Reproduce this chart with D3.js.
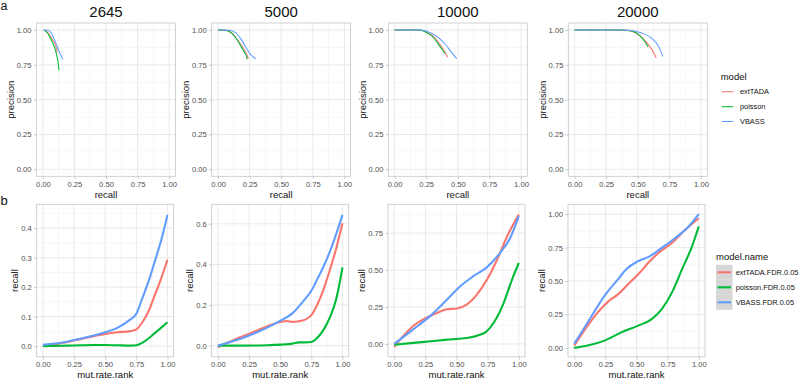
<!DOCTYPE html>
<html><head><meta charset="utf-8">
<script src="https://cdn.jsdelivr.net/npm/d3@7"></script>
<style>body{margin:0;background:#fff} svg{display:block} text{font-family:"Liberation Sans",Arial,Helvetica,sans-serif}</style>
</head><body><svg id="c" width="800" height="379"></svg>
<script>
// ---------- data ----------
const facetTitles = ["2645", "5000", "10000", "20000"];
const prModels = ["extTADA", "poisson", "VBASS"];
const smModels = ["extTADA.FDR.0.05", "poisson.FDR.0.05", "VBASS.FDR.0.05"];
const modelColors = ["#F8766D", "#00BA38", "#619CFF"];

const unitTicks = [0, 0.25, 0.5, 0.75, 1];
const unitTickLabels = ["0.00", "0.25", "0.50", "0.75", "1.00"];

// precision-recall curves: [recall, precision]
const pr2645_extTADA = [[0.008,1.0],[0.03,0.99],[0.06,0.955],[0.08,0.925],[0.1,0.89],[0.115,0.84]];
const pr2645_poisson = [[0.008,1.0],[0.04,0.975],[0.068,0.926],[0.094,0.871],[0.107,0.83],[0.12,0.77],[0.128,0.71]];
const pr2645_VBASS   = [[0.008,1.0],[0.042,0.998],[0.068,0.978],[0.094,0.926],[0.112,0.885],[0.133,0.837],[0.159,0.789]];
const pr5000_extTADA = [[0,1.0],[0.06,0.998],[0.112,0.975],[0.166,0.914],[0.2,0.87],[0.225,0.83],[0.24,0.794]];
const pr5000_poisson = [[0,1.0],[0.06,0.998],[0.113,0.974],[0.153,0.926],[0.192,0.866],[0.219,0.823],[0.232,0.79]];
const pr5000_VBASS   = [[0,1.0],[0.087,0.998],[0.139,0.981],[0.179,0.938],[0.219,0.878],[0.258,0.823],[0.298,0.794]];
const pr10000_extTADA = [[0,1.0],[0.2,1.0],[0.262,0.98],[0.315,0.945],[0.355,0.9],[0.39,0.854],[0.42,0.804]];
const pr10000_poisson = [[0,1.0],[0.2,1.0],[0.256,0.98],[0.308,0.945],[0.347,0.897],[0.373,0.863],[0.399,0.831]];
const pr10000_VBASS   = [[0,1.0],[0.204,1.0],[0.282,0.98],[0.347,0.945],[0.413,0.885],[0.452,0.837],[0.491,0.794]];
const pr20000_extTADA = [[0,1.0],[0.37,1.0],[0.45,0.99],[0.542,0.937],[0.607,0.866],[0.646,0.799]];
const pr20000_poisson = [[0,1.0],[0.372,1.0],[0.45,0.993],[0.515,0.962],[0.554,0.919],[0.581,0.878]];
const pr20000_VBASS   = [[0,1.0],[0.424,0.998],[0.53,0.978],[0.607,0.943],[0.659,0.89],[0.698,0.81]];

// recall by mutation-rate rank (smoothed): [mut.rate.rank, recall]
const rk2645_extTADA = [[0,0.002],[0.1,0.007],[0.2,0.014],[0.3,0.024],[0.4,0.033],[0.5,0.041],[0.6,0.047],[0.7,0.051],[0.75,0.057],[0.8,0.082],[0.85,0.12],[0.9,0.175],[0.95,0.23],[1.0,0.293]];
const rk2645_poisson = [[0,0.0],[0.1,0.001],[0.2,0.002],[0.3,0.003],[0.4,0.004],[0.5,0.004],[0.6,0.003],[0.7,0.002],[0.75,0.003],[0.8,0.012],[0.85,0.027],[0.9,0.045],[0.95,0.063],[1.0,0.081]];
const rk2645_VBASS   = [[0,0.005],[0.1,0.009],[0.2,0.016],[0.3,0.025],[0.4,0.035],[0.5,0.047],[0.6,0.063],[0.7,0.09],[0.75,0.11],[0.8,0.165],[0.85,0.222],[0.9,0.29],[0.95,0.36],[1.0,0.445]];
const rk5000_extTADA = [[0,-0.008],[0.1,0.02],[0.2,0.046],[0.3,0.071],[0.4,0.096],[0.5,0.116],[0.55,0.121],[0.6,0.117],[0.65,0.12],[0.7,0.128],[0.75,0.15],[0.8,0.205],[0.85,0.28],[0.9,0.375],[0.95,0.48],[1.0,0.603]];
const rk5000_poisson = [[0,0.0],[0.2,0.0],[0.4,0.002],[0.5,0.005],[0.6,0.01],[0.65,0.016],[0.7,0.016],[0.75,0.018],[0.8,0.04],[0.85,0.08],[0.9,0.14],[0.95,0.23],[1.0,0.385]];
const rk5000_VBASS   = [[0,0.0],[0.1,0.018],[0.2,0.038],[0.3,0.062],[0.4,0.09],[0.5,0.122],[0.6,0.16],[0.7,0.23],[0.75,0.27],[0.8,0.33],[0.85,0.392],[0.9,0.465],[0.95,0.55],[1.0,0.644]];
const rk10000_extTADA = [[0,-0.02],[0.075,0.056],[0.155,0.123],[0.263,0.18],[0.343,0.21],[0.424,0.235],[0.504,0.24],[0.584,0.268],[0.665,0.336],[0.745,0.436],[0.826,0.57],[0.906,0.727],[1.0,0.875]];
const rk10000_poisson = [[0,-0.005],[0.155,0.007],[0.29,0.018],[0.424,0.029],[0.558,0.038],[0.665,0.056],[0.732,0.078],[0.8,0.145],[0.88,0.28],[0.946,0.436],[1.0,0.548]];
const rk10000_VBASS   = [[0,0.0],[0.155,0.1],[0.29,0.19],[0.424,0.3],[0.53,0.39],[0.638,0.46],[0.745,0.52],[0.853,0.62],[0.933,0.72],[1.0,0.865]];
const rk20000_extTADA = [[0,0.017],[0.108,0.166],[0.189,0.265],[0.27,0.344],[0.351,0.4],[0.432,0.475],[0.514,0.55],[0.595,0.636],[0.676,0.71],[0.784,0.785],[0.892,0.884],[1.0,0.97]];
const rk20000_poisson = [[0,0.0],[0.108,0.017],[0.243,0.054],[0.378,0.116],[0.514,0.166],[0.622,0.215],[0.703,0.29],[0.784,0.413],[0.865,0.587],[0.946,0.76],[1.0,0.908]];
const rk20000_VBASS   = [[0,0.03],[0.108,0.19],[0.243,0.389],[0.351,0.512],[0.419,0.59],[0.514,0.649],[0.608,0.686],[0.703,0.748],[0.811,0.822],[0.919,0.908],[1.0,1.0]];

const rkTicks2645 = [0, 0.1, 0.2, 0.3, 0.4];
const rkTickLabels2645 = ["0.0", "0.1", "0.2", "0.3", "0.4"];
const rkTicks5000 = [0, 0.2, 0.4, 0.6];
const rkTickLabels5000 = ["0.0", "0.2", "0.4", "0.6"];
const rkTicks10000 = [0, 0.25, 0.5, 0.75];
const rkTickLabels10000 = ["0.00", "0.25", "0.50", "0.75"];
const rkTicks20000 = [0, 0.25, 0.5, 0.75, 1];
const rkTickLabels20000 = ["0.00", "0.25", "0.50", "0.75", "1.00"];
const rkDomain2645 = [-0.036, 0.481];
const rkDomain5000 = [-0.055, 0.696];
const rkDomain10000 = [-0.087, 0.945];
const rkDomain20000 = [-0.067, 1.074];

const prSeries = [
  [pr2645_extTADA, pr2645_poisson, pr2645_VBASS],
  [pr5000_extTADA, pr5000_poisson, pr5000_VBASS],
  [pr10000_extTADA, pr10000_poisson, pr10000_VBASS],
  [pr20000_extTADA, pr20000_poisson, pr20000_VBASS]
];
const rkSeries = [
  [rk2645_extTADA, rk2645_poisson, rk2645_VBASS],
  [rk5000_extTADA, rk5000_poisson, rk5000_VBASS],
  [rk10000_extTADA, rk10000_poisson, rk10000_VBASS],
  [rk20000_extTADA, rk20000_poisson, rk20000_VBASS]
];
const rkTicks = [rkTicks2645, rkTicks5000, rkTicks10000, rkTicks20000];
const rkTickLabels = [rkTickLabels2645, rkTickLabels5000, rkTickLabels10000, rkTickLabels20000];
const rkDomains = [rkDomain2645, rkDomain5000, rkDomain10000, rkDomain20000];

// ---------- layout ----------
const svg = d3.select("#c");
const topLefts = [36.5, 211.7, 388.3, 568.3], topW = 139, topY0 = 23, topY1 = 176.3;
const botLefts = [36.7, 211.7, 388, 568], botW = 137, botY0 = 204.3, botY1 = 356.8;
const TICK = "#b3b3b3", TXT = "#4d4d4d", GRIDMAJ = "#e3e3e3", GRIDMIN = "#efefef", BORDER = "#c6c6c6";

function minorOf(ticks, dom) {
  const step = ticks[1] - ticks[0];
  const m = ticks.map(t => t - step / 2).concat([ticks[ticks.length - 1] + step / 2]);
  return m.filter(v => v > dom[0] && v < dom[1]);
}

let clipId = 0;
function drawPanel(o) {
  const g = svg.append("g");
  const x = d3.scaleLinear().domain([-0.05, 1.05]).range([o.left, o.left + o.w]);
  const y = d3.scaleLinear().domain(o.yDom).range([o.y1, o.y0]);
  const xm = minorOf(unitTicks, [-0.05, 1.05]), ym = minorOf(o.yTicks, o.yDom);
  g.selectAll(".gxm").data(xm).join("line").attr("x1", d => x(d)).attr("x2", d => x(d))
    .attr("y1", o.y0).attr("y2", o.y1).attr("stroke", GRIDMIN).attr("stroke-width", 0.5);
  g.selectAll(".gym").data(ym).join("line").attr("y1", d => y(d)).attr("y2", d => y(d))
    .attr("x1", o.left).attr("x2", o.left + o.w).attr("stroke", GRIDMIN).attr("stroke-width", 0.5);
  g.selectAll(".gx").data(unitTicks).join("line").attr("x1", d => x(d)).attr("x2", d => x(d))
    .attr("y1", o.y0).attr("y2", o.y1).attr("stroke", GRIDMAJ).attr("stroke-width", 0.8);
  g.selectAll(".gy").data(o.yTicks).join("line").attr("y1", d => y(d)).attr("y2", d => y(d))
    .attr("x1", o.left).attr("x2", o.left + o.w).attr("stroke", GRIDMAJ).attr("stroke-width", 0.8);
  const cid = "clip" + (clipId++);
  svg.append("clipPath").attr("id", cid).append("rect")
    .attr("x", o.left).attr("y", o.y0).attr("width", o.w).attr("height", o.y1 - o.y0);
  const line = d3.line().x(d => x(d[0])).y(d => y(d[1])).curve(d3.curveMonotoneX);
  const lg = g.append("g").attr("clip-path", `url(#${cid})`);
  o.series.forEach((s, i) => {
    lg.append("path").attr("d", line(s)).attr("fill", "none")
      .attr("stroke", modelColors[i]).attr("stroke-width", o.lw)
      .attr("stroke-linejoin", "round").attr("stroke-linecap", "butt");
  });
  g.append("rect").attr("x", o.left).attr("y", o.y0).attr("width", o.w).attr("height", o.y1 - o.y0)
    .attr("fill", "none").attr("stroke", BORDER).attr("stroke-width", 0.8);
  const ax = g.append("g").attr("transform", `translate(0,${o.y1})`)
    .call(d3.axisBottom(x).tickValues(unitTicks).tickFormat((d, i) => unitTickLabels[i]).tickSize(2.75).tickPadding(o.xPad));
  const ay = g.append("g").attr("transform", `translate(${o.left},0)`)
    .call(d3.axisLeft(y).tickValues(o.yTicks).tickFormat((d, i) => o.yLabels[i]).tickSize(2.75).tickPadding(2.2));
  [ax, ay].forEach(a => {
    a.select(".domain").remove();
    a.selectAll(".tick line").attr("stroke", TICK).attr("stroke-width", 0.7);
    a.selectAll(".tick text").attr("fill", TXT).style("font-size", "7.6px")
      .style("font-family", "'Liberation Sans',Arial,sans-serif");
  });
  const bb = ay.node().getBBox();
  const tx = o.left + bb.x - 3;
  const cy = (o.y0 + o.y1) / 2;
  g.append("text").attr("transform", `translate(${tx},${cy}) rotate(-90)`).attr("text-anchor", "middle")
    .style("font-size", "9.5px").attr("fill", "#111").text(o.yTitle);
  g.append("text").attr("x", o.left + o.w / 2).attr("y", o.xTitleY).attr("text-anchor", "middle")
    .style("font-size", "9.5px").attr("fill", "#111").text(o.xTitle);
  if (o.title) {
    g.append("text").attr("x", o.left + o.w / 2).attr("y", 17).attr("text-anchor", "middle")
      .style("font-size", "15px").attr("fill", "#111").text(o.title);
  }
}

for (let p = 0; p < 4; p++) {
  drawPanel({
    left: topLefts[p], w: topW, y0: topY0, y1: topY1, yDom: [-0.05, 1.05], xPad: 2.2,
    yTicks: unitTicks, yLabels: unitTickLabels, series: prSeries[p], lw: 1.05,
    yTitle: "precision", xTitle: "recall", xTitleY: 197.5, title: facetTitles[p]
  });
  drawPanel({
    left: botLefts[p], w: botW, y0: botY0, y1: botY1, yDom: rkDomains[p], xPad: 1.6,
    yTicks: rkTicks[p], yLabels: rkTickLabels[p], series: rkSeries[p], lw: 2.1,
    yTitle: "recall", xTitle: "mut.rate.rank", xTitleY: 378, title: null
  });
}

// panel tags
svg.append("text").attr("x", 0.5).attr("y", 10).style("font-size", "12.5px").attr("fill", "#111").text("a");
svg.append("text").attr("x", 0.5).attr("y", 205).style("font-size", "13px").attr("fill", "#111").text("b");

// legend (top)
const lgTop = svg.append("g");
lgTop.append("text").attr("x", 720.7).attr("y", 79.5).style("font-size", "9.5px").attr("fill", "#111").text("model");
const topRows = [91.7, 106.7, 121.5];
prModels.forEach((m, i) => {
  lgTop.append("line").attr("x1", 721.7).attr("x2", 733.3).attr("y1", topRows[i]).attr("y2", topRows[i])
    .attr("stroke", modelColors[i]).attr("stroke-width", 1.05);
  lgTop.append("text").attr("x", 740).attr("y", topRows[i] + 2.7).style("font-size", "7.4px")
    .attr("fill", "#111").text(m);
});

// legend (bottom)
const lgBot = svg.append("g");
lgBot.append("text").attr("x", 716).attr("y", 260).style("font-size", "9.5px").attr("fill", "#111").text("model.name");
const botRows = [272.3, 287.3, 302.3];
smModels.forEach((m, i) => {
  lgBot.append("rect").attr("x", 716).attr("y", botRows[i] - 7.5).attr("width", 16.5).attr("height", 15)
    .attr("fill", "#d6d6d6");
  lgBot.append("line").attr("x1", 717.5).attr("x2", 731).attr("y1", botRows[i]).attr("y2", botRows[i])
    .attr("stroke", modelColors[i]).attr("stroke-width", 2.1);
  lgBot.append("text").attr("x", 735.7).attr("y", botRows[i] + 2.7).style("font-size", "7.4px")
    .attr("fill", "#111").text(m);
});
</script>
</body></html>
